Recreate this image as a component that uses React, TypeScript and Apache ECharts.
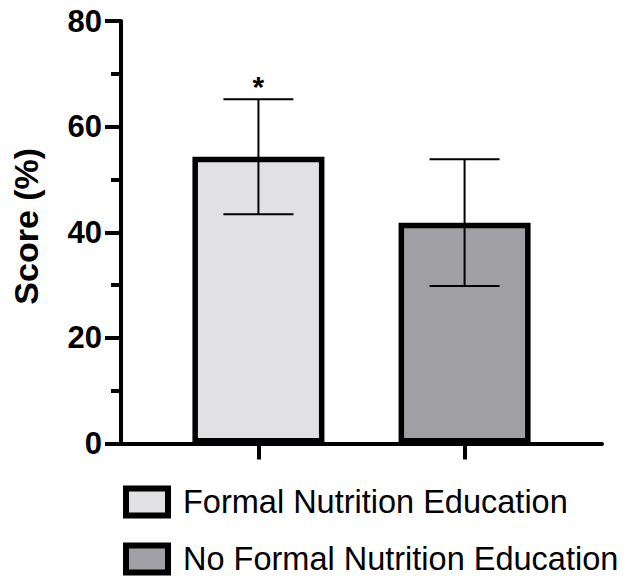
import React, { useEffect, useRef } from "react";
import * as echarts from "echarts";

const categories = ["Formal Nutrition Education", "No Formal Nutrition Education"];
const xPositions = [1, 2];
const means = [54.3, 41.8];
const sds = [10.9, 12.0];
const significance = ["*", ""];
const fills = ["#e1e1e3", "#a0a0a4"];
const yAxisName = "Score (%)";

const FONT = "'Liberation Sans', Arial, Helvetica, sans-serif";

export default function App() {
  const ref = useRef<HTMLDivElement>(null);
  useEffect(() => {
    document.body.style.margin = "0";
    const chart = echarts.init(ref.current!, null, { renderer: "svg" });
    const barSeries = categories.map((name, i) => ({
      name,
      type: "bar",
      barWidth: 132,
      barGap: "-100%",
      data: [[xPositions[i], means[i]]],
      itemStyle: { color: fills[i], borderColor: "#000", borderWidth: 5.5 },
      z: 2,
    }));
    const errData = means.map((m, i) => [xPositions[i], m, sds[i]]);
    chart.setOption({
      animation: false,
      grid: { left: 121, right: 35, top: 21, bottom: 141.5, outerBoundsMode: "none" },
      legend: {
        data: categories,
        orient: "vertical",
        left: 118,
        top: 480.5,
        itemWidth: 42,
        itemHeight: 27,
        itemGap: 24,
        icon: "rect",
        itemStyle: { borderColor: "#000", borderWidth: 6 },
        textStyle: { fontSize: 32.5, color: "#000", fontFamily: FONT, padding: [0, 0, 0, 10] },
        selectedMode: false,
      },
      xAxis: {
        type: "value",
        min: 1 / 3,
        max: 8 / 3,
        splitLine: { show: false },
        axisLabel: { show: false },
        axisLine: { show: true, onZero: false, lineStyle: { color: "#000", width: 4 } },
        axisTick: { show: true, customValues: xPositions, length: 16, lineStyle: { color: "#000", width: 4 } },
      },
      yAxis: {
        type: "value",
        min: 0,
        max: 80,
        interval: 20,
        name: yAxisName,
        nameLocation: "middle",
        nameGap: 78,
        nameTextStyle: { fontSize: 34, fontWeight: "bold", color: "#000", fontFamily: FONT, padding: [0, 0, 0, 12] },
        splitLine: { show: false },
        axisLine: { show: true, lineStyle: { color: "#000", width: 4 } },
        axisTick: { show: true, length: 16, lineStyle: { color: "#000", width: 4 } },
        minorTick: { show: true, splitNumber: 2, length: 10, lineStyle: { color: "#000", width: 4 } },
        axisLabel: { fontSize: 31, fontWeight: "bold", color: "#000", margin: 19, fontFamily: FONT },
      },
      series: [
        ...barSeries,
        {
          type: "custom",
          name: "error",
          z: 5,
          data: errData,
          renderItem: (params: any, api: any) => {
            const x = api.value(0);
            const m = api.value(1);
            const sd = api.value(2);
            const top = api.coord([x, m + sd]);
            const bot = api.coord([x, m - sd]);
            const half = 35;
            const style = { stroke: "#000", lineWidth: 2 };
            const children: any[] = [
              { type: "line", shape: { x1: top[0], y1: top[1], x2: bot[0], y2: bot[1] }, style },
              { type: "line", shape: { x1: top[0] - half, y1: top[1], x2: top[0] + half, y2: top[1] }, style },
              { type: "line", shape: { x1: bot[0] - half, y1: bot[1], x2: bot[0] + half, y2: bot[1] }, style },
            ];
            const sig = significance[params.dataIndex];
            if (sig) {
              children.push({
                type: "text",
                style: {
                  text: sig,
                  x: top[0],
                  y: top[1] - 13,
                  align: "center",
                  verticalAlign: "middle",
                  fontSize: 30,
                  fontWeight: "bold",
                  fill: "#000",
                  fontFamily: FONT,
                },
              });
            }
            return { type: "group", children };
          },
        },
      ],
    });
    return () => chart.dispose();
  }, []);
  return <div ref={ref} style={{ width: 637, height: 585 }} />;
}
